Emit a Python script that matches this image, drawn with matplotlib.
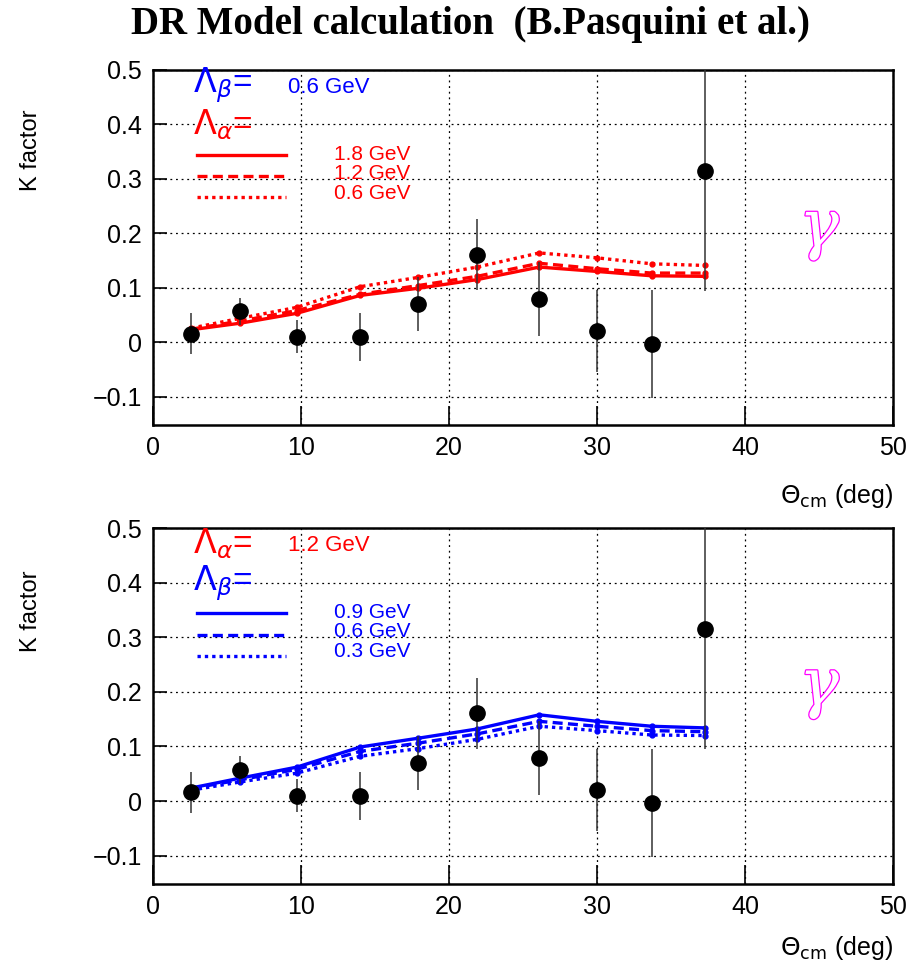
import numpy as np
import matplotlib
matplotlib.use("Agg")
import matplotlib.pyplot as plt
import matplotlib.patheffects as pe

# Data points (same measurement in both panels)
theta = [2.6, 5.9, 9.7, 14.0, 17.9, 21.9, 26.1, 30.0, 33.7, 37.3]
k_data = [0.016, 0.057, 0.010, 0.009, 0.070, 0.161, 0.079, 0.021, -0.003, 0.315]
k_err = [0.038, 0.025, 0.030, 0.044, 0.049, 0.065, 0.068, 0.075, 0.099, 0.220]

# Top panel: Lambda_beta = 0.6 GeV, Lambda_alpha varied
alpha_18 = [0.023, 0.035, 0.053, 0.086, 0.099, 0.115, 0.138, 0.130, 0.122, 0.121]
alpha_12 = [0.024, 0.039, 0.058, 0.088, 0.104, 0.121, 0.145, 0.135, 0.127, 0.127]
alpha_06 = [0.026, 0.044, 0.064, 0.102, 0.119, 0.138, 0.164, 0.155, 0.144, 0.141]

# Bottom panel: Lambda_alpha = 1.2 GeV, Lambda_beta varied
beta_09 = [0.024, 0.042, 0.062, 0.099, 0.115, 0.132, 0.158, 0.146, 0.137, 0.134]
beta_06 = [0.023, 0.039, 0.058, 0.091, 0.106, 0.123, 0.146, 0.137, 0.129, 0.127]
beta_03 = [0.020, 0.035, 0.051, 0.082, 0.096, 0.113, 0.137, 0.129, 0.121, 0.120]

plt.rcParams['font.family'] = ['Liberation Sans', 'DejaVu Sans']
plt.rcParams['mathtext.fontset'] = 'dejavusans'

fig = plt.figure(figsize=(9.14, 9.69), dpi=100)
fig.text(0.515, 0.975, "DR Model calculation  (B.Pasquini et al.)",
         ha='center', va='center', fontsize=28, fontweight='bold',
         family='Liberation Serif')

styles = [('-', None), ('--', (3.0, 1.6)), (':', (1.0, 1.2))]


def draw_panel(ax, curves, color, head, head_color, head_val, sub, sub_color,
               labels, xlab_off, ylab_pos):
    ax.set_xlim(0, 50)
    ax.set_ylim(-0.152, 0.5)
    ax.set_xticks([0, 10, 20, 30, 40, 50])
    ax.set_yticks([-0.1, 0, 0.1, 0.2, 0.3, 0.4, 0.5])
    ax.set_yticklabels(['\u22120.1', '0', '0.1', '0.2', '0.3', '0.4', '0.5'])
    ax.grid(True, color='black', linestyle=(0, (1.5, 3)), linewidth=0.9)
    ax.tick_params(direction='in', length=10, width=1.2, labelsize=18, pad=8)
    ax.tick_params(axis='x', length=14)
    for s in ax.spines.values():
        s.set_linewidth(1.8)
    ax.set_ylabel("K factor", fontsize=17)
    ax.yaxis.set_label_coords(-0.15, ylab_pos)

    # curves
    for ys, (ls, dash) in zip(curves, styles):
        line, = ax.plot(theta, ys, color=color, linewidth=2.4, linestyle=ls,
                        marker='o', markersize=3.5, zorder=3)
        if dash is not None:
            line.set_dashes(dash)

    # data
    ax.errorbar(theta, k_data, yerr=k_err, fmt='o', color='black',
                markersize=11, elinewidth=1.1, ecolor='#333333', capsize=0,
                zorder=4)

    # legend block
    ax.text(2.7, 0.472, r"$\Lambda_{\%s}$=" % head, color=head_color,
            fontsize=24, va='center', ha='left')
    ax.text(9.1, 0.468, head_val, color=head_color, fontsize=16,
            va='center', ha='left')
    ax.text(2.7, 0.400, r"$\Lambda_{\%s}$=" % sub, color=sub_color,
            fontsize=24, va='center', ha='left')
    ys_leg = [0.344, 0.305, 0.266]
    ys_txt = [0.345, 0.310, 0.274]
    for (ls, dash), yl, yt, lab in zip(styles, ys_leg, ys_txt, labels):
        line, = ax.plot([3.0, 9.0], [yl, yl], color=color, linewidth=2.4,
                        linestyle=ls)
        if dash is not None:
            line.set_dashes(dash)
        ax.text(12.2, yt, lab, color=color, fontsize=15, va='center', ha='left')

    # gamma symbol (outlined strokes)
    ax.text(45.0, 0.21, "\u03b3", color='white',
            fontsize=48, style='italic', family='DejaVu Serif',
            va='center', ha='center', zorder=2,
            path_effects=[pe.withStroke(linewidth=1.8, foreground='magenta')])

    ax.text(1.0, xlab_off, r"$\Theta_{\rm cm}$ (deg)", transform=ax.transAxes,
            ha='right', va='center', fontsize=18)


ax1 = fig.add_axes([0.1674, 0.5614, 0.8096, 0.3664])
draw_panel(ax1, [alpha_18, alpha_12, alpha_06], 'red', 'beta', 'blue',
           "0.6 GeV", 'alpha', 'red', ["1.8 GeV", "1.2 GeV", "0.6 GeV"],
           -0.2, 0.775)

ax2 = fig.add_axes([0.1674, 0.0877, 0.8096, 0.3673])
draw_panel(ax2, [beta_09, beta_06, beta_03], 'blue', 'alpha', 'red',
           "1.2 GeV", 'beta', 'blue', ["0.9 GeV", "0.6 GeV", "0.3 GeV"],
           -0.18, 0.765)

fig.savefig("out.png", dpi=100)
